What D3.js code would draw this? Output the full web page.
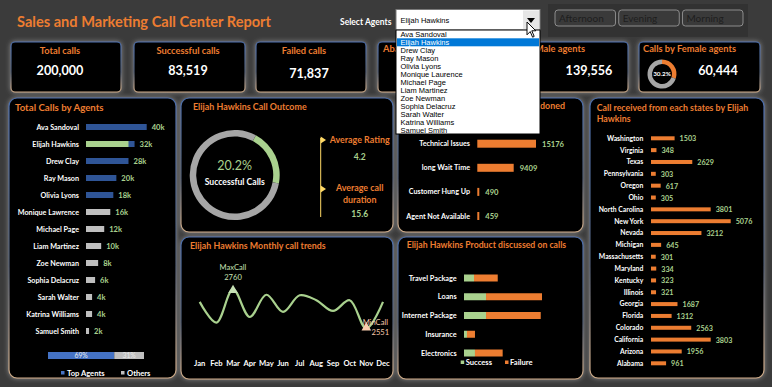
<!DOCTYPE html>
<html>
<head>
<meta charset="utf-8">
<script src="https://cdn.jsdelivr.net/npm/d3@7"></script>
<style>
  body { margin: 0; background: #3b3b3b; }
  svg { display: block; font-family: Lato, "Open Sans", sans-serif; }
</style>
</head>
<body>
<div id="container"></div>
<script>
let w = 772;
let h = 387;

// ---- data ----
let agents = ["Ava Sandoval", "Elijah Hawkins", "Drew Clay", "Ray Mason", "Olivia Lyons", "Monique Lawrence",
  "Michael Page", "Liam Martinez", "Zoe Newman", "Sophia Delacruz", "Sarah Walter", "Katrina Williams", "Samuel Smith"];
let agentCalls = [40, 32, 28, 20, 18, 16, 12, 10, 8, 6, 4, 4, 2]; // thousands
let topAgentCount = 5;
let selectedAgent = "Elijah Hawkins";
let selectedPart = 28; // green part of the selected agent bar (k)
let topShare = [69, 31];
let shareLabels = ["Top Agents", "Others"];

let dropdownAgents = ["Ava Sandoval", "Elijah Hawkins", "Drew Clay", "Ray Mason", "Olivia Lyons", "Monique Laurence",
  "Michael Page", "Liam Martinez", "Zoe Newman", "Sophia Delacruz", "Sarah Walter", "Katrina Williams", "Samuel Smith"];
let shifts = ["Afternoon", "Evening", "Morning"];

let kpiTitles = ["Total calls", "Successful calls", "Failed calls", "Abandoned calls", "Calls by Male agents", "Calls by Female agents"];
let kpiValues = [200000, 83519, 71837, 44644, 139556, 60444];
let genderShare = [69.8, 30.2];

let outcomeShare = [20.2, 79.8];
let avgRating = 4.2;
let avgDuration = 15.6;

let months = ["Jan", "Feb", "Mar", "Apr", "May", "Jun", "Jul", "Aug", "Sep", "Oct", "Nov", "Dec"];
let monthlyCalls = [2693, 2583, 2760, 2613, 2731, 2640, 2728, 2702, 2645, 2702, 2551, 2693];

let reasons = ["Technical Issues", "long Wait Time", "Customer Hung Up", "Agent Not Available"];
let reasonCalls = [15176, 9409, 490, 459];

let products = ["Travel Package", "Loans", "Internet Package", "Insurance", "Electronics"];
let productSuccess = [1340, 2950, 2950, 400, 1470];
let productFailure = [3180, 7500, 7330, 1070, 3710];

let states = ["Washington", "Virginia", "Texas", "Pennsylvania", "Oregon", "Ohio", "North Carolina", "New York", "Nevada",
  "Michigan", "Massachusetts", "Maryland", "Kentucky", "Illinois", "Georgia", "Florida", "Colorado", "California", "Arizona", "Alabama"];
let stateCalls = [1503, 348, 2629, 303, 617, 305, 3801, 5076, 3212, 645, 301, 334, 323, 321, 1687, 1312, 2563, 3803, 1956, 961];

// ---- colours ----
let orange = "#ed7d31";
let green = "#a9d18e";
let navy = "#2f5597";
let grey = "#bfbfbf";

let viz = d3.select("#container").append("svg")
  .attr("width", w)
  .attr("height", h)
  .style("background-color", "#3b3b3b");

let defs = viz.append("defs");
let edge = defs.append("linearGradient").attr("id", "edge")
  .attr("x1", 0).attr("y1", 0).attr("x2", 0).attr("y2", 1);
edge.append("stop").attr("offset", "0%").attr("stop-color", "#4a70b0");
edge.append("stop").attr("offset", "60%").attr("stop-color", "#4e5a70");
edge.append("stop").attr("offset", "100%").attr("stop-color", "#d2ae8a");

let glow = defs.append("filter").attr("id", "glow")
  .attr("x", "-20%").attr("y", "-20%").attr("width", "140%").attr("height", "140%");
glow.append("feGaussianBlur").attr("in", "SourceAlpha").attr("stdDeviation", 2.5).attr("result", "b");
glow.append("feFlood").attr("flood-color", "#8a8a8a").attr("result", "c");
glow.append("feComposite").attr("in", "c").attr("in2", "b").attr("operator", "in").attr("result", "s");
let mg = glow.append("feMerge");
mg.append("feMergeNode").attr("in", "s");
mg.append("feMergeNode").attr("in", "SourceGraphic");

// parts hidden by the open dropdown are clipped away
defs.append("clipPath").attr("id", "leftOfDrop")
  .append("rect").attr("x", 0).attr("y", 0).attr("width", 396).attr("height", h);
defs.append("clipPath").attr("id", "rightOfDrop")
  .append("rect").attr("x", 540).attr("y", 0).attr("width", w - 540).attr("height", h);

function box(x, y, bw, bh, r) {
  viz.append("rect")
    .attr("x", x).attr("y", y).attr("width", bw).attr("height", bh).attr("rx", r)
    .attr("fill", "#000")
    .attr("stroke", "url(#edge)")
    .attr("stroke-width", 1.2)
    .attr("filter", "url(#glow)");
}

function txt(x, y, s, size, color, anchor, weight) {
  return viz.append("text")
    .attr("x", x).attr("y", y).attr("dy", "0.35em")
    .attr("font-size", size)
    .attr("fill", color)
    .attr("text-anchor", anchor || "start")
    .attr("font-weight", weight || "bold")
    .text(s);
}

let fmt = d3.format(",");

// ---- header ----
txt(17, 22, "Sales and Marketing Call Center Report", 14.6, orange);
txt(340, 22, "Select Agents", 8.5, "#fff");

viz.append("rect").attr("x", 548).attr("y", 4).attr("width", 200).attr("height", 33).attr("fill", "#323232");
let shiftX = d3.scaleBand().domain(shifts).range([555, 743]).paddingInner(0.05);
viz.selectAll(".shift").data(shifts).enter().append("rect")
  .attr("class", "shift")
  .attr("x", d => shiftX(d)).attr("y", 10)
  .attr("width", shiftX.bandwidth()).attr("height", 16).attr("rx", 3)
  .attr("fill", "#3a3a3a").attr("stroke", "#8c8c8c").attr("stroke-width", 1);
shifts.forEach(function(d) {
  txt(shiftX(d) + 4, 18.5, d, 10, "#1e1e1e", "start", "normal");
});

// ---- KPI cards ----
let cardX = [11, 134, 256, 378, 497, 639];
let cardW = [110, 111, 110, 108, 131, 121];
let titleX = [60, 188, 304, 383, 501, 643];
let valueX = [60, 188, 309, 432, 589, 718];
kpiTitles.forEach(function(t, i) {
  box(cardX[i], 42, cardW[i], 50, 4);
  let left = i >= 3;
  let a = txt(titleX[i], left ? 49 : 51, t, 9.3, orange, left ? "start" : "middle");
  if (i == 3) a.attr("clip-path", "url(#leftOfDrop)");
  if (i == 4) a.attr("clip-path", "url(#rightOfDrop)");
  // the abandoned-calls value sits fully under the open dropdown
  if (i != 3) txt(valueX[i], i == 2 ? 74 : 71, fmt(kpiValues[i]), 12.6, "#fff", "middle");
});

let kpiPie = d3.pie().sort(null);
let kpiArc = d3.arc().innerRadius(10).outerRadius(14.5);
let femaleShare = [genderShare[1], genderShare[0]];
let fg = viz.append("g").attr("transform", "translate(662,74)");
fg.selectAll("path").data(kpiPie(femaleShare)).enter().append("path")
  .attr("d", kpiArc)
  .attr("fill", (d, i) => i == 0 ? orange : "#a6a6a6");
fg.append("text").attr("text-anchor", "middle").attr("dy", "0.35em")
  .attr("font-size", 6.3).attr("font-weight", "bold").attr("fill", "#fff")
  .text(femaleShare[0] + "%");

// ---- Total calls by agents ----
box(9, 98, 167, 280, 8);
txt(15, 108, "Total Calls by Agents", 9.7, orange);

let agX = d3.scaleLinear().domain([0, d3.max(agentCalls)]).range([86, 146.7]);
let agY = d3.scalePoint().domain(agents).range([127, 331]);

viz.selectAll(".agbar").data(agents).enter().append("rect")
  .attr("class", "agbar")
  .attr("x", agX(0))
  .attr("y", d => agY(d) - 3)
  .attr("width", (d, i) => agX(agentCalls[i]) - agX(0))
  .attr("height", 6)
  .attr("fill", (d, i) => i < topAgentCount ? navy : grey);
viz.append("rect")
  .attr("x", agX(0)).attr("y", agY(selectedAgent) - 3)
  .attr("width", agX(selectedPart) - agX(0)).attr("height", 6)
  .attr("fill", green);
agents.forEach(function(d, i) {
  txt(79, agY(d), d, 7.2, "#fff", "end");
  txt(agX(agentCalls[i]) + 5, agY(d) + 0.5, agentCalls[i] + "k", 7.6, green);
});

let shX = d3.scaleLinear().domain([0, 100]).range([48, 144]);
let shColors = ["#4472c4", grey];
let acc = 0;
topShare.forEach(function(v, i) {
  viz.append("rect").attr("x", shX(acc)).attr("y", 352).attr("width", shX(acc + v) - shX(acc)).attr("height", 7)
    .attr("fill", shColors[i]);
  txt((shX(acc) + shX(acc + v)) / 2, 355.5, v + "%", 6.8, "#e8e8e8", "middle", "normal");
  acc += v;
});
let legX = [61, 121];
shareLabels.forEach(function(s, i) {
  viz.append("rect").attr("x", legX[i]).attr("y", 371).attr("width", 3.5).attr("height", 3.5).attr("fill", shColors[i]);
  txt(legX[i] + 6, 373, s, 7.6, "#fff");
});

// ---- call outcome ----
box(181, 98, 212, 134, 8);
txt(193, 107, selectedAgent + " Call Outcome", 8.9, orange);

let outPie = d3.pie().sort(null).startAngle(0.49).endAngle(0.49 + 2 * Math.PI);
let outArc = d3.arc().innerRadius(38.5).outerRadius(45);
let og = viz.append("g").attr("transform", "translate(234.7,175)");
og.selectAll("path").data(outPie(outcomeShare)).enter().append("path")
  .attr("d", outArc)
  .attr("fill", (d, i) => i == 0 ? green : "#a6a6a6");
txt(234.7, 166, outcomeShare[0] + "%", 12.5, green, "middle", "normal");
txt(234.7, 182, "Successful Calls", 8.6, "#fff", "middle");

viz.append("line").attr("x1", 320.7).attr("x2", 320.7).attr("y1", 138).attr("y2", 217)
  .attr("stroke", "#ffd966").attr("stroke-width", 1);
[140, 189].forEach(function(y) {
  viz.append("path").attr("d", "M320.7," + (y - 3.5) + "L326," + y + "L320.7," + (y + 3.5) + "Z").attr("fill", "#ffd966");
});
txt(359.7, 140, "Average Rating", 8.9, orange, "middle");
txt(359.7, 157, avgRating, 8.5, green, "middle");
txt(359.7, 188, "Average call", 8.9, orange, "middle");
txt(359.7, 200, "duration", 8.9, orange, "middle");
txt(359.7, 214, avgDuration, 8.5, green, "middle");

// ---- monthly trend ----
box(181, 237, 212, 142, 8);
txt(190, 246, selectedAgent + " Monthly call trends", 8.9, orange);

let mX = d3.scalePoint().domain(months).range([199.7, 383]);
let mY = d3.scaleLinear().domain([2450, 2850]).range([347.7, 272.3]);
let trend = d3.line()
  .x((d, i) => mX(months[i]))
  .y(d => mY(d))
  .curve(d3.curveCatmullRom.alpha(0.5));
viz.append("path").attr("d", trend(monthlyCalls))
  .attr("fill", "none").attr("stroke", green).attr("stroke-width", 2.2);
months.forEach(function(m) {
  txt(mX(m), 363.7, m, 7.6, "#fff", "middle");
});
let maxI = monthlyCalls.indexOf(d3.max(monthlyCalls));
let minI = monthlyCalls.indexOf(d3.min(monthlyCalls));
let tri = d3.symbol().type(d3.symbolTriangle).size(40);
viz.append("path").attr("d", tri)
  .attr("transform", "translate(" + mX(months[maxI]) + "," + (mY(monthlyCalls[maxI]) + 1) + ")")
  .attr("fill", "#c5e0b4");
txt(mX(months[maxI]), 267, "MaxCall", 7.6, "#c5e0b4", "middle", "normal");
txt(mX(months[maxI]), 277, monthlyCalls[maxI], 7.6, "#c5e0b4", "middle", "normal");
viz.append("path").attr("d", tri)
  .attr("transform", "translate(" + mX(months[minI]) + "," + (mY(monthlyCalls[minI]) - 1) + ")")
  .attr("fill", "#f8cbad");
txt(mX(months[minI]) + 9, 322, "MinCall", 7.6, "#f8cbad", "middle", "normal");
txt(mX(months[minI]) + 14, 332, monthlyCalls[minI], 7.6, "#f8cbad", "middle", "normal");

// ---- abandon reasons ----
box(398, 98, 185, 134, 8);
txt(565, 106, selectedAgent + " Reason for Call Abandoned", 8.9, orange, "end")
  .attr("clip-path", "url(#rightOfDrop)");

let rX = d3.scaleLinear().domain([0, d3.max(reasonCalls)]).range([477.3, 536]);
let rY = d3.scalePoint().domain(reasons).range([143.7, 216]);
viz.selectAll(".rbar").data(reasons).enter().append("rect")
  .attr("class", "rbar")
  .attr("x", rX(0))
  .attr("y", d => rY(d) - 4)
  .attr("width", (d, i) => Math.max(2, rX(reasonCalls[i]) - rX(0)))
  .attr("height", 8)
  .attr("fill", orange);
reasons.forEach(function(d, i) {
  txt(470, rY(d), d, 7.2, "#fff", "end");
  txt(Math.max(rX(0) + 2, rX(reasonCalls[i])) + 6, rY(d) + 0.5, reasonCalls[i], 7.6, green);
});

// ---- products ----
box(398, 237, 185, 142, 8);
txt(406.7, 245.3, selectedAgent + " Product discussed on calls", 8.7, orange);

let pTotals = products.map((d, i) => productSuccess[i] + productFailure[i]);
let pX = d3.scaleLinear().domain([0, d3.max(pTotals)]).range([464, 542]);
let pY = d3.scalePoint().domain(products).range([278, 353]);
viz.selectAll(".psucc").data(products).enter().append("rect")
  .attr("class", "psucc")
  .attr("x", pX(0)).attr("y", d => pY(d) - 3.5)
  .attr("width", (d, i) => pX(productSuccess[i]) - pX(0)).attr("height", 7)
  .attr("fill", green);
viz.selectAll(".pfail").data(products).enter().append("rect")
  .attr("class", "pfail")
  .attr("x", (d, i) => pX(productSuccess[i])).attr("y", d => pY(d) - 3.5)
  .attr("width", (d, i) => pX(pTotals[i]) - pX(productSuccess[i])).attr("height", 7)
  .attr("fill", orange);
products.forEach(function(d) {
  txt(456.7, pY(d), d, 7.3, "#fff", "end");
});
[["Success", green, 460.7], ["Failure", orange, 505]].forEach(function(l) {
  viz.append("rect").attr("x", l[2]).attr("y", 360.5).attr("width", 3.5).attr("height", 3.5).attr("fill", l[1]);
  txt(l[2] + 5, 362.3, l[0], 7.6, "#fff");
});

// ---- states ----
box(590, 98, 174, 280, 8);
txt(596.7, 108.3, "Call received from each states by Elijah", 8.8, orange);
txt(596.7, 119.3, "Hawkins", 8.8, orange);

let sX = d3.scaleLinear().domain([0, d3.max(stateCalls)]).range([651, 730.7]);
let sY = d3.scalePoint().domain(states).range([138.3, 363.3]);
viz.selectAll(".sbar").data(states).enter().append("rect")
  .attr("class", "sbar")
  .attr("x", sX(0)).attr("y", d => sY(d) - 2)
  .attr("width", (d, i) => sX(stateCalls[i]) - sX(0)).attr("height", 4)
  .attr("fill", orange);
states.forEach(function(d, i) {
  txt(643.3, sY(d), d, 6.8, "#fff", "end");
  txt(sX(stateCalls[i]) + 5, sY(d) + 0.5, stateCalls[i], 7.2, green);
});

// ---- open agent dropdown (drawn on top) ----
viz.append("rect").attr("x", 396).attr("y", 9.5).attr("width", 144).attr("height", 20.5)
  .attr("fill", "#fff").attr("stroke", "#7a7a7a");
viz.append("rect").attr("x", 523).attr("y", 10.5).attr("width", 16).attr("height", 19).attr("fill", "#e6e6e6");
viz.append("path").attr("d", "M527,18L535,18L531,23Z").attr("fill", "#000");
viz.append("text").attr("x", 400.5).attr("y", 20).attr("dy", "0.35em")
  .attr("font-family", "'Liberation Sans', sans-serif").attr("font-size", 7.5).attr("fill", "#000")
  .text(selectedAgent);

viz.append("rect").attr("x", 396).attr("y", 30).attr("width", 144).attr("height", 104)
  .attr("fill", "#fff").attr("stroke", "#000").attr("stroke-width", 1);
let ddY = d3.scalePoint().domain(dropdownAgents).range([34.3, 130.3]);
viz.append("rect").attr("x", 397).attr("y", ddY(selectedAgent) - 4).attr("width", 142).attr("height", 8)
  .attr("fill", "#0078d7");
viz.selectAll(".dd").data(dropdownAgents).enter().append("text")
  .attr("class", "dd")
  .attr("x", 400.5).attr("y", d => ddY(d)).attr("dy", "0.35em")
  .attr("font-family", "'Liberation Sans', sans-serif").attr("font-size", 7.5)
  .attr("fill", d => d == selectedAgent ? "#fff" : "#000")
  .text(d => d);

// mouse pointer over the dropdown arrow
viz.append("path")
  .attr("d", "M0,0L0,16L4,12L7,19L9,18L6,11L11,11Z")
  .attr("transform", "translate(527,22) scale(0.8)")
  .attr("fill", "#fff").attr("stroke", "#000").attr("stroke-width", 1.2);
</script>
</body>
</html>
